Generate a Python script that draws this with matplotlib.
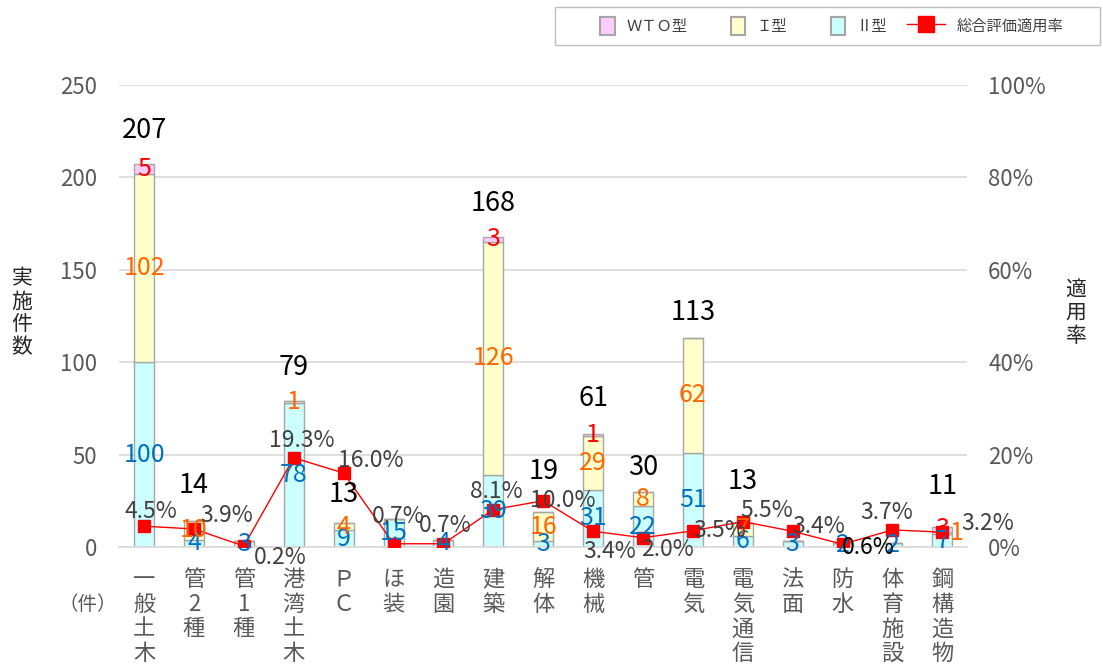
import matplotlib
matplotlib.use("Agg")
import matplotlib.pyplot as plt
from matplotlib.patches import Patch, Rectangle
from matplotlib.lines import Line2D
from matplotlib.legend_handler import HandlerPatch
import numpy as np

plt.rcParams['font.family'] = ['Noto Sans CJK JP', 'DejaVu Sans']

categories = ["一般土木", "管2種", "管1種", "港湾土木", "ＰＣ", "ほ装", "造園", "建築", "解体",
              "機械", "管", "電気", "電気通信", "法面", "防水", "体育施設", "鋼構造物"]
type2 = [100, 4, 3, 78, 9, 15, 4, 39, 3, 31, 22, 51, 6, 3, 2, 2, 7]
type1 = [102, 10, 0, 1, 4, 0, 0, 126, 16, 29, 8, 62, 7, 0, 0, 0, 1]
wto = [5, 0, 0, 0, 0, 0, 0, 3, 0, 1, 0, 0, 0, 0, 0, 0, 3]
rate = [4.5, 3.9, 0.2, 19.3, 16.0, 0.7, 0.7, 8.1, 10.0, 3.4, 2.0, 3.5, 5.5, 3.4, 0.6, 3.7, 3.2]
legend_labels = ["ＷＴＯ型", "Ｉ型", "Ⅱ型", "総合評価適用率"]

# layout (pixel offsets for labels; screen direction: +y is down)
rate_off = [(7, -15), (33, -13), (36, 11), (8, -17), (27, -13), (5, -27), (2, -18), (3, -18),
            (20, 0), (17, 20), (24, 12), (27, 0), (24, -11), (26, -5), (26, 3), (-6, -17), (45, -9)]
total_off = [34, 36, 34, 33, 28, 34, 34, 33, 40, 36, 24, 26, 41, 34, 34, 34, 40]

C2, C1, CW = '#CCFFFF', '#FFFFCC', '#FFCCFF'
EDGE = '#A6A6A6'
GRAY = '#595959'

fig = plt.figure(figsize=(11.03, 6.70), dpi=100)
ax = fig.add_axes([0.108, 0.1836, 0.769, 0.6896])
x = np.arange(len(categories))
t2 = np.array(type2); t1 = np.array(type1); tw = np.array(wto)
w = 0.4
ax.bar(x, t2, w, color=C2, edgecolor=EDGE, linewidth=1, zorder=2)
ax.bar(x, t1, w, bottom=t2, color=C1, edgecolor=EDGE, linewidth=1, zorder=2)
ax.bar(x, tw, w, bottom=t2 + t1, color=CW, edgecolor=EDGE, linewidth=1, zorder=2)

ax.set_xlim(-0.5, len(categories) - 0.5)
ax.set_ylim(0, 250)
ax.set_yticks(range(0, 251, 50))
ax.grid(axis='y', color='#D9D9D9', linewidth=1.2, zorder=0)
ax.set_axisbelow(True)
for s in ['top', 'right', 'left']:
    ax.spines[s].set_visible(False)
ax.spines['bottom'].set_color('#D9D9D9')
ax.spines['bottom'].set_linewidth(1.2)
ax.tick_params(axis='y', length=0, labelsize=16, labelcolor=GRAY, pad=16)
ax.tick_params(axis='x', length=0, labelsize=16, labelcolor=GRAY, pad=15)
ax.set_xticks(x)
ax.set_xticklabels(["\n".join(list(c)) for c in categories], va='top', linespacing=1.1)

ax2 = ax.twinx()
ax2.set_position(ax.get_position())
ax2.set_ylim(0, 100)
ax2.set_yticks(range(0, 101, 20))
ax2.set_yticklabels([f"{v}%" for v in range(0, 101, 20)])
for s in ['top', 'right', 'left', 'bottom']:
    ax2.spines[s].set_visible(False)
ax2.tick_params(axis='y', length=0, labelsize=16, labelcolor=GRAY, pad=15)
ax2.plot(x, rate, color='#FF0000', linewidth=1, marker='s', markersize=8.5,
         markerfacecolor='#FF0000', markeredgecolor='#FF0000', zorder=5)

# segment labels (drawn on ax2 so they sit above the line, in ax data coords)
for i in range(len(categories)):
    if t2[i] > 0:
        ax2.text(x[i], t2[i] / 2, str(t2[i]), ha='center', va='center', fontsize=18,
                 color='#0070C0', zorder=6, transform=ax.transData)
    if t1[i] > 0:
        dx = 0.28 if i == len(categories) - 1 else 0
        ax2.text(x[i] + dx, t2[i] + t1[i] / 2, str(t1[i]), ha='center', va='center',
                 fontsize=18, color='#FF6600', zorder=6, transform=ax.transData)
    if tw[i] > 0:
        ax2.text(x[i], t2[i] + t1[i] + tw[i] / 2, str(tw[i]), ha='center', va='center',
                 fontsize=18, color='#FF0000', zorder=6, transform=ax.transData)
    nz = int(t2[i] > 0) + int(t1[i] > 0) + int(tw[i] > 0)
    if nz > 1:
        tot = int(t2[i] + t1[i] + tw[i])
        ax2.annotate(str(tot), (x[i], tot), xycoords=ax.transData, xytext=(0, total_off[i]),
                     textcoords='offset pixels', ha='center', va='center', fontsize=19.5,
                     color='black', zorder=6)

for i, r in enumerate(rate):
    col = 'black' if i == 14 else '#404040'
    dx, dy = rate_off[i]
    ax2.annotate(f"{r:.1f}%", (x[i], r), xytext=(dx, -dy), textcoords='offset pixels',
                 ha='center', va='center', fontsize=16.5, color=col, zorder=7)

fig.text(22 / 1103, 1 - 313 / 670, "\n".join("実施件数"), ha='center', va='center',
         fontsize=15, color='#262626', linespacing=1.05)
fig.text(1076 / 1103, 1 - 313 / 670, "\n".join("適用率"), ha='center', va='center',
         fontsize=15, color='#262626', linespacing=1.05)
fig.text(88 / 1103, 1 - 605 / 670, "（件）", ha='center', va='center', fontsize=14, color=GRAY)


def square_patch(legend, orig_handle, xdescent, ydescent, width, height, fontsize):
    pw = height * 0.82
    ph = height * 1.05
    return Rectangle((-xdescent + width - pw, -ydescent + (height - ph) / 2), pw, ph)


handles = [Patch(facecolor=CW, edgecolor=EDGE, linewidth=1.5),
           Patch(facecolor=C1, edgecolor=EDGE, linewidth=1.5),
           Patch(facecolor=C2, edgecolor=EDGE, linewidth=1.5),
           Line2D([0], [0], color='#FF0000', lw=1, marker='s', markersize=11)]
hm = {h: HandlerPatch(patch_func=square_patch) for h in handles[:3]}
leg = fig.legend(handles, legend_labels, loc='center', bbox_to_anchor=(820 / 1103, 1 - 26 / 670),
                 ncol=4, frameon=False, fontsize=11,
                 handlelength=2.5, handleheight=1.4, columnspacing=1.3, handletextpad=0.75,
                 borderpad=0.3, labelcolor='#404040', handler_map=hm)
fig.patches.append(Rectangle((555 / 1103, 1 - 45 / 670), (1100 - 555) / 1103, 38 / 670,
                             transform=fig.transFigure, facecolor='none',
                             edgecolor='#BFBFBF', linewidth=1))

fig.savefig("out.png", dpi=100)
